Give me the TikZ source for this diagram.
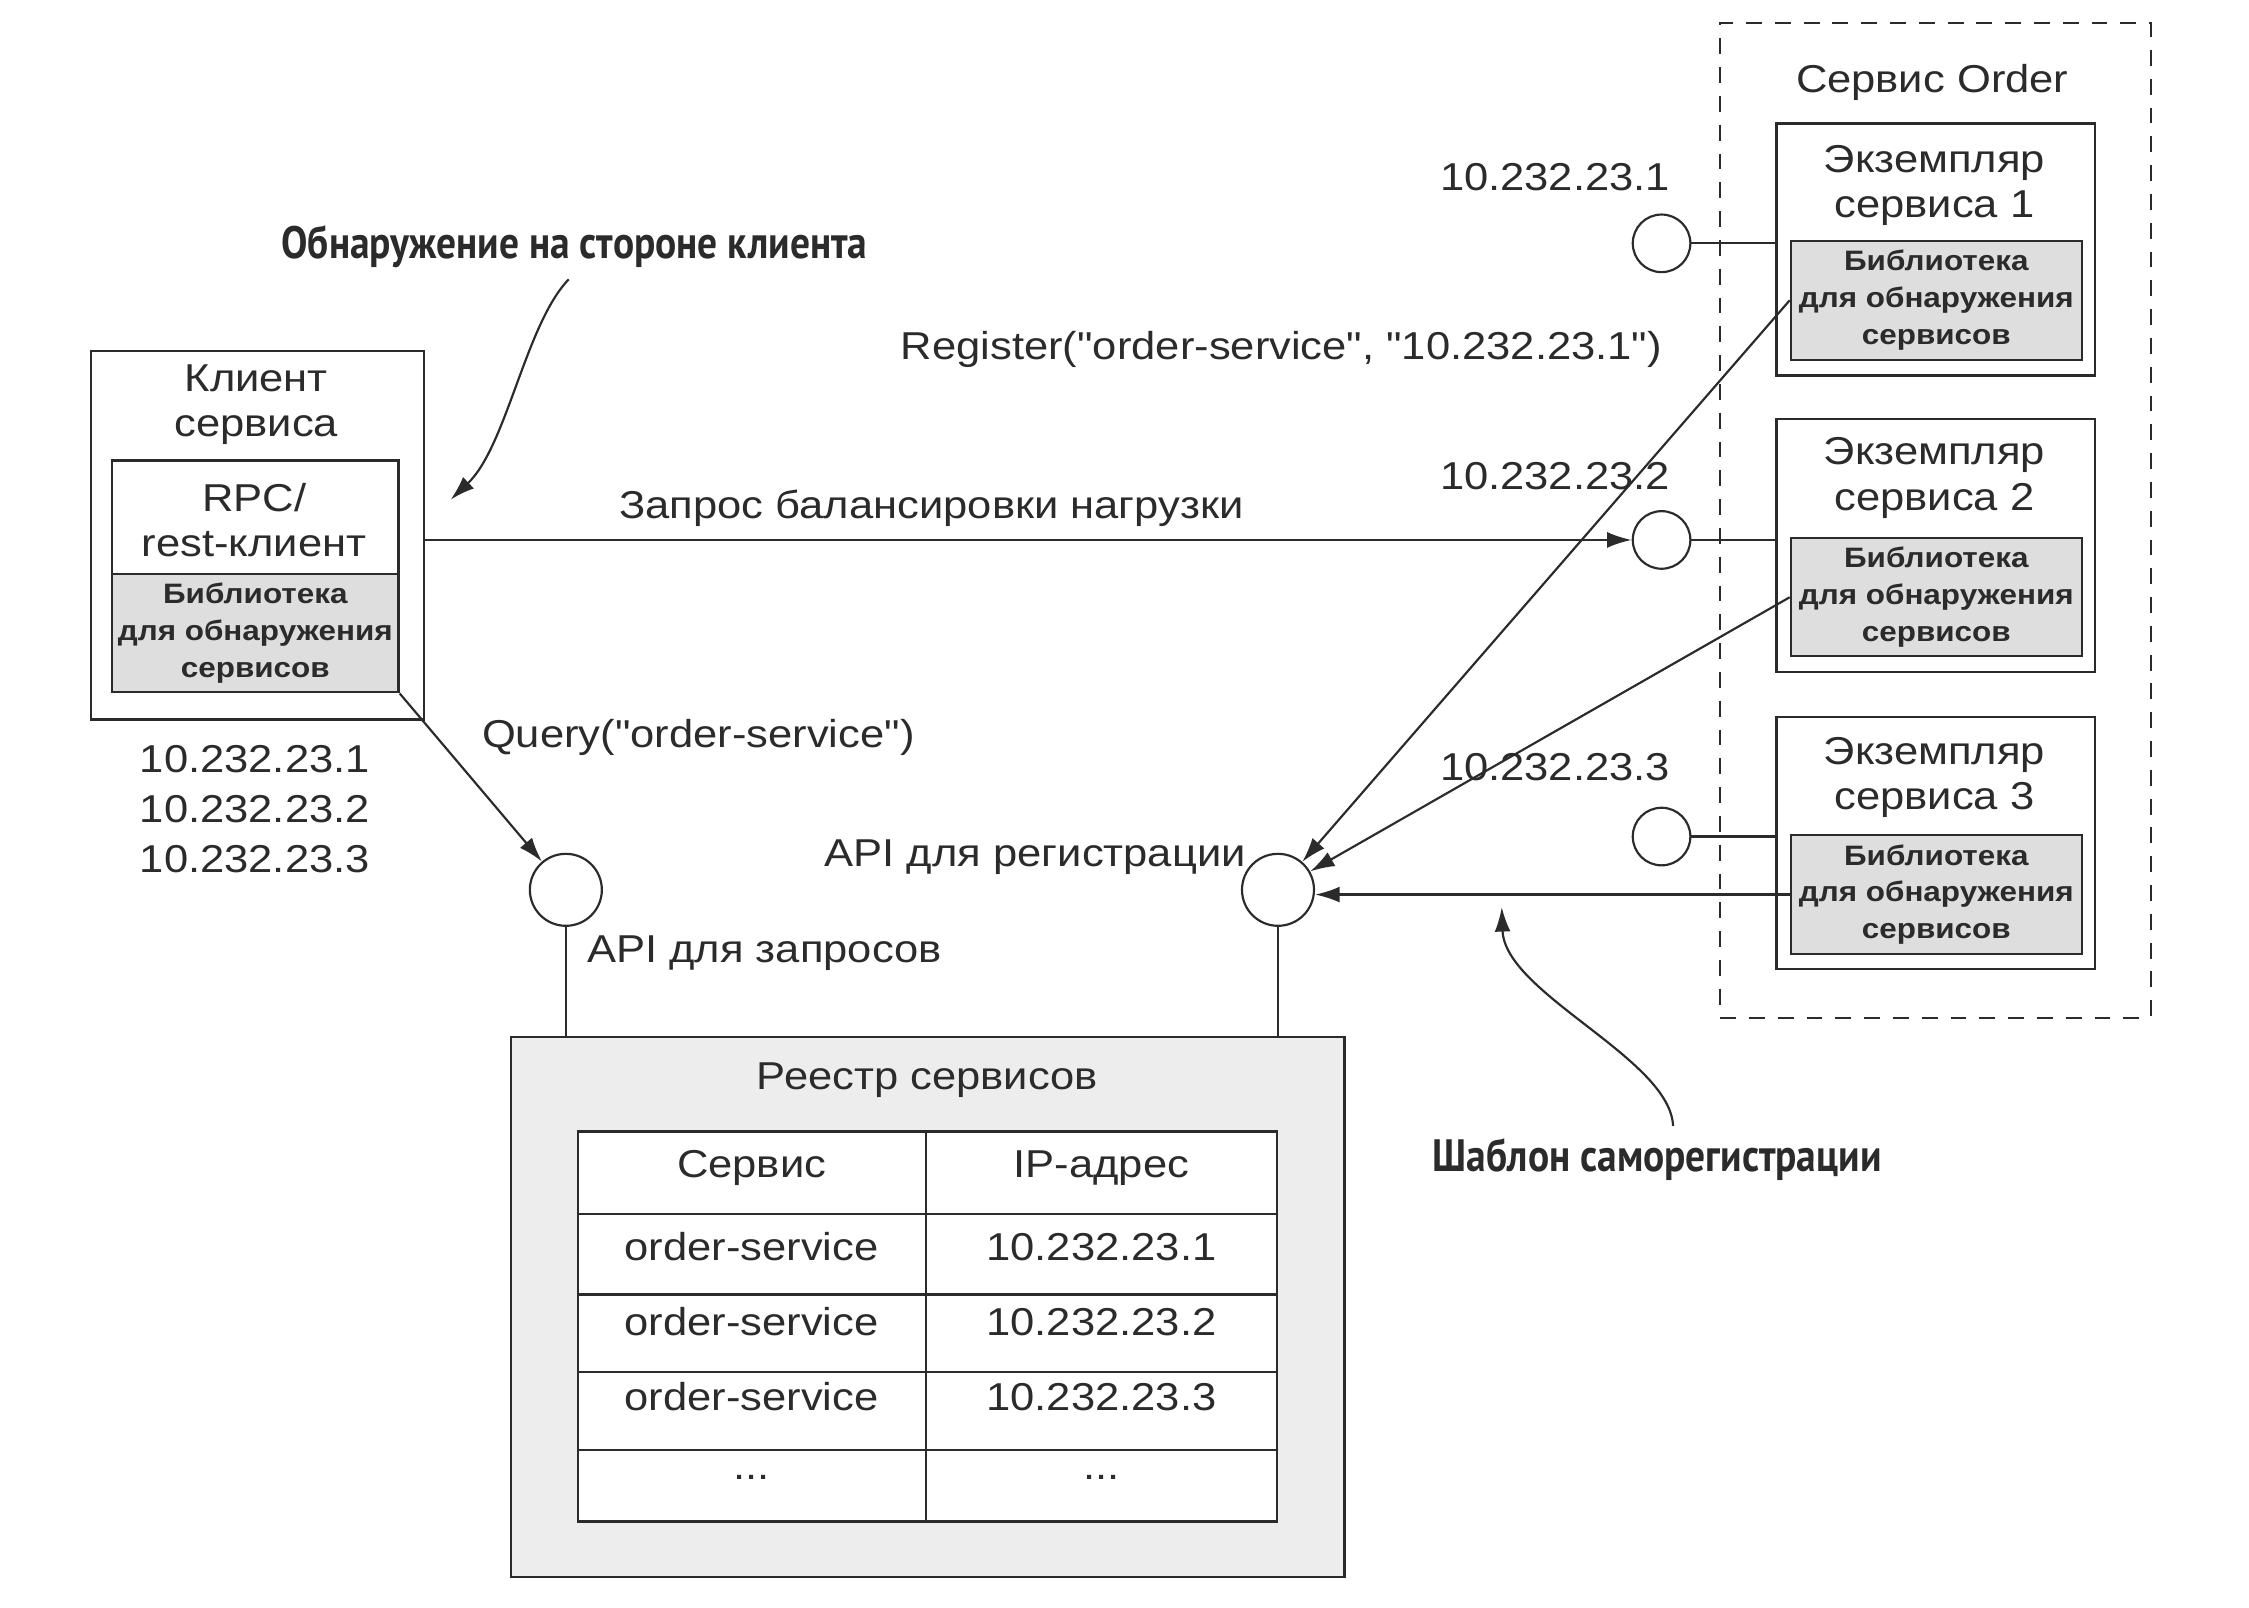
\documentclass[tikz,border=0pt]{standalone}
\usepackage{fontspec}
\setmainfont{Liberation Sans}[FakeStretch=1.12, Ligatures=TeXReset]
\newfontfamily\condfont{PT Sans}[FakeStretch=0.87]
\usetikzlibrary{arrows.meta,calc}
\definecolor{ink}{HTML}{2B2B2B}
\definecolor{libgray}{HTML}{DEDEDE}
\definecolor{reggray}{HTML}{EDEDED}
\newcommand\mainfs{\fontsize{27}{31.5}\selectfont}
\newcommand\ipfs{\fontsize{27}{35}\selectfont}
\newcommand\libfs{\fontsize{19.5}{25.5}\selectfont\bfseries}
\newcommand\titlefs{\fontsize{31.5}{34}\selectfont\condfont\bfseries}
\tikzset{
  box/.style={draw=ink, line width=1.6pt, fill=white, inner sep=0pt, anchor=north west},
  libbox/.style={box, fill=libgray},
  regbox/.style={box, fill=reggray},
  iface/.style={circle, draw=ink, line width=1.5pt, fill=white, inner sep=0pt, minimum size=50pt},
  ifacesm/.style={iface, minimum size=40pt},
  txt/.style={font=\mainfs, text=ink, align=center, inner sep=0pt},
  libtxt/.style={font=\libfs, text=ink, align=center, inner sep=0pt},
  ttl/.style={font=\titlefs, text=ink, inner sep=0pt},
  conn/.style={draw=ink, line width=1.5pt},
  arr/.style={conn, -{Latex[length=17pt,width=11pt]}},
  dashbox/.style={draw=ink, line width=1.4pt, dash pattern=on 11pt off 9pt, inner sep=0pt, anchor=north west}
}
\begin{document}
\begin{tikzpicture}[x=1pt,y=-1pt]
\fill[white] (0,0) rectangle (1562,1116.8);
\useasboundingbox (0,0) rectangle (1562,1116.8);

% ---- titles
\node[ttl] (title1) at (399,171) {Обнаружение на стороне клиента};
\node[ttl] (title2) at (1151,805) {Шаблон саморегистрации};
\coordinate (t1s) at (395,194);
\coordinate (t1e) at (313,347);
\coordinate (t2s) at (1162,782);
\coordinate (t2e) at (1043,630);
\draw[arr] (t1s) .. controls (365,225) and (352,310) .. (t1e);
\draw[arr] (t2s) .. controls (1160,735) and (1045,690) .. (t2e);

% ---- client
\node[box, minimum width=231pt, minimum height=256pt] (client) at (62.5,243) {};
\node[txt] (clientlbl) at (178,281) {Клиент\\сервиса};
\node[box, minimum width=199pt, minimum height=79pt] (rpc) at (77,319) {};
\node[txt] (rpclbl) at (176.5,361) {RPC/\\rest-клиент};
\node[libbox, minimum width=199pt, minimum height=82pt] (clib) at (77,398) {};
\node[libtxt] (cliblbl) at (clib.center) {Библиотека\\для обнаружения\\сервисов};
\node[txt, font=\ipfs] (cips) at (177,562) {10.232.23.1\\10.232.23.2\\10.232.23.3};

% ---- interfaces
\node[iface] (qapi) at (393,618) {};
\node[iface] (rapi) at (887.6,618) {};
\node[txt] (qlbl) at (531,662) {API для запросов};
\node[txt] (rlbl) at (719,595) {API для регистрации};
\node[txt] (querylbl) at (485,512) {Query("order-service")};

% ---- registry
\node[regbox, minimum width=579pt, minimum height=375pt] (reg) at (354,719.5) {};
\node[txt] (reglbl) at (644,750) {Реестр сервисов};
\node[box, minimum width=485.3pt, minimum height=271pt] (tbl) at (400.7,785) {};
\draw[conn] (643,785) -- (643,1056);
\foreach \yy in {843,899,953,1007} \draw[conn] (400.7,\yy) -- (886,\yy);
\node[txt] (h1) at (522,811) {Сервис};
\node[txt] (h2) at (765,811) {IP-адрес};
\node[txt] (r1a) at (522,866) {order-service};
\node[txt] (r1b) at (765,866) {10.232.23.1};
\node[txt] (r2a) at (522,918) {order-service};
\node[txt] (r2b) at (765,918) {10.232.23.2};
\node[txt] (r3a) at (522,970) {order-service};
\node[txt] (r3b) at (765,970) {10.232.23.3};
\node[txt] (r4a) at (522,1026) {...};
\node[txt] (r4b) at (765,1026) {...};

% ---- order service
\node[dashbox, minimum width=299pt, minimum height=691pt] (orderbox) at (1194,15) {};
\node[txt] (orderlbl) at (1342,57) {Сервис Order};

\node[box, minimum width=221pt, minimum height=175pt] (inst1) at (1233,85) {};
\node[txt] (inst1lbl) at (1343.5,129) {Экземпляр\\сервиса 1};
\node[libbox, minimum width=202pt, minimum height=82.5pt] (lib1) at (1243,166.5) {};
\node[libtxt] (lib1lbl) at (lib1.center) {Библиотека\\для обнаружения\\сервисов};

\node[box, minimum width=221pt, minimum height=176pt] (inst2) at (1233,290) {};
\node[txt] (inst2lbl) at (1343.5,332) {Экземпляр\\сервиса 2};
\node[libbox, minimum width=202pt, minimum height=82pt] (lib2) at (1243,373) {};
\node[libtxt] (lib2lbl) at (lib2.center) {Библиотека\\для обнаружения\\сервисов};

\node[box, minimum width=221pt, minimum height=175pt] (inst3) at (1233,497) {};
\node[txt] (inst3lbl) at (1343.5,540) {Экземпляр\\сервиса 3};
\node[libbox, minimum width=202pt, minimum height=83pt] (lib3) at (1243,579) {};
\node[libtxt] (lib3lbl) at (lib3.center) {Библиотека\\для обнаружения\\сервисов};

\node[ifacesm] (c1) at (1154,169) {};
\node[ifacesm] (c2) at (1154,375) {};
\node[ifacesm] (c3) at (1154,581) {};
\node[txt] (ip1) at (1080,123) {10.232.23.1};
\node[txt] (ip2) at (1080,331) {10.232.23.2};
\node[txt] (ip3) at (1080,533) {10.232.23.3};

\node[txt] (reglabel) at (890,243) {Register("order-service", "10.232.23.1")};
\node[txt] (loadlbl) at (647,353) {Запрос балансировки нагрузки};

% ---- connectors
\draw[conn] (c1.east) -- (c1.east -| inst1.west);
\draw[conn] (c2.east) -- (c2.east -| inst2.west);
\draw[conn] (c3.east) -- (c3.east -| inst3.west);
\draw[arr] (client.east |- c2) -- (c2.west);
\draw[arr] (clib.south east) -- (qapi);
\draw[conn] (qapi.south) -- (qapi.south |- reg.north);
\draw[conn] (rapi.south) -- (rapi.south |- reg.north);
\draw[arr] (lib1.west) -- (rapi);
\draw[arr] (lib2.west) -- (rapi);
\draw[arr] (lib3.west) -- (rapi.east |- lib3.west);
\end{tikzpicture}
\end{document}
